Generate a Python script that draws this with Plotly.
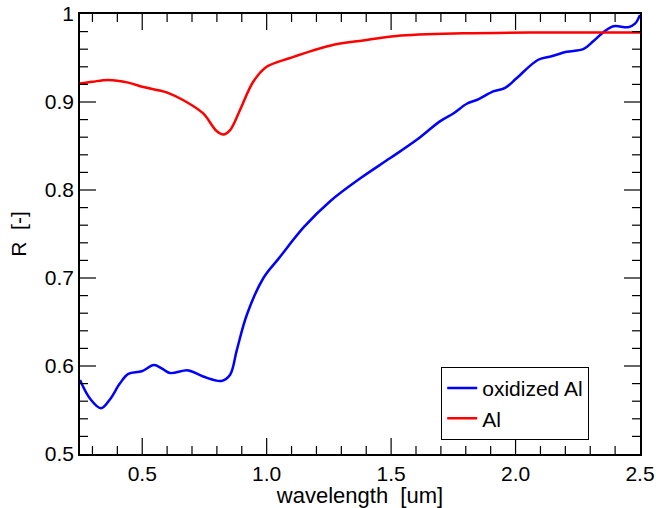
import numpy as np
import plotly.graph_objects as go

# oxidized Al
blue_x = [0.25, 0.29, 0.334, 0.37, 0.41, 0.444, 0.498, 0.547, 0.58, 0.612, 0.685, 0.745, 0.819, 0.853,
          0.88, 0.92, 0.987, 1.048, 1.15, 1.254, 1.375, 1.495, 1.603, 1.696, 1.75, 1.804, 1.85, 1.91,
          1.958, 2.004, 2.091, 2.145, 2.205, 2.272, 2.312, 2.352, 2.393, 2.453, 2.48, 2.5]
blue_y = [0.584, 0.563, 0.552, 0.562, 0.580, 0.591, 0.594, 0.601, 0.597, 0.592, 0.595, 0.588, 0.583, 0.590,
          0.618, 0.658, 0.700, 0.722, 0.758, 0.787, 0.813, 0.836, 0.857, 0.878, 0.887, 0.898, 0.903, 0.912,
          0.916, 0.927, 0.948, 0.952, 0.957, 0.960, 0.969, 0.979, 0.986, 0.985, 0.989, 0.999]

# Al
red_x = [0.25, 0.30, 0.364, 0.444, 0.504, 0.598, 0.678, 0.745, 0.799, 0.826, 0.853, 0.893, 0.946, 1.0,
         1.094, 1.254, 1.388, 1.522, 1.79, 2.058, 2.5]
red_y = [0.921, 0.923, 0.925, 0.922, 0.917, 0.911, 0.900, 0.887, 0.867, 0.863, 0.868, 0.891, 0.923, 0.940,
         0.950, 0.964, 0.970, 0.975, 0.978, 0.979, 0.979]

x_tickvals = [0.5, 1.0, 1.5, 2.0, 2.5]
x_ticktext = ["0.5", "1.0", "1.5", "2.0", "2.5"]
y_tickvals = [0.5, 0.6, 0.7, 0.8, 0.9, 1.0]
y_ticktext = ["0.5", "0.6", "0.7", "0.8", "0.9", "1"]

X_RANGE = [0.25, 2.5]
Y_RANGE = [0.5, 1.0]

# minor tick positions (every 0.1 on x, every 0.02 on y), skipping the major ones
x_minor = [round(float(v), 2) for v in np.arange(0.3, 2.5001, 0.1) if all(abs(v - m) > 1e-6 for m in x_tickvals)]
y_minor = [round(float(v), 3) for v in np.arange(0.52, 1.0001, 0.02) if all(abs(v - m) > 1e-6 for m in y_tickvals)]

FONT = "Liberation Sans, Arial, sans-serif"
W, H = 656, 508
M_L, M_R, M_T, M_B = 80, 16, 14, 54
PLOT_W = W - M_L - M_R
PLOT_H = H - M_T - M_B
MAJOR_PX, MINOR_PX = 16, 8

# tick lengths converted from pixels to data units on each axis
px_x = (X_RANGE[1] - X_RANGE[0]) / PLOT_W
px_y = (Y_RANGE[1] - Y_RANGE[0]) / PLOT_H

tx, ty = [], []
for vals, n_px in ((x_tickvals, MAJOR_PX), (x_minor, MINOR_PX)):
    for xv in vals:
        if xv <= X_RANGE[0] or xv >= X_RANGE[1]:
            continue
        tx += [xv, xv, None, xv, xv, None]
        ty += [Y_RANGE[0], Y_RANGE[0] + n_px * px_y, None, Y_RANGE[1], Y_RANGE[1] - n_px * px_y, None]
for vals, n_px in ((y_tickvals, MAJOR_PX), (y_minor, MINOR_PX)):
    for yv in vals:
        if yv <= Y_RANGE[0] or yv >= Y_RANGE[1]:
            continue
        tx += [X_RANGE[0], X_RANGE[0] + n_px * px_x, None, X_RANGE[1], X_RANGE[1] - n_px * px_x, None]
        ty += [yv, yv, None, yv, yv, None]

fig = go.Figure()
fig.add_trace(go.Scatter(x=blue_x, y=blue_y, mode="lines", name="oxidized Al",
                         line=dict(color="#0000ff", width=2.5, shape="spline", smoothing=1.0)))
fig.add_trace(go.Scatter(x=red_x, y=red_y, mode="lines", name="Al",
                         line=dict(color="#ff0000", width=2.5, shape="spline", smoothing=1.0)))
# inside tick marks on all four sides
fig.add_trace(go.Scatter(x=tx, y=ty, mode="lines", showlegend=False, hoverinfo="skip",
                         line=dict(color="black", width=1.2), connectgaps=False))

fig.update_layout(
    xaxis=dict(
        range=X_RANGE, tickmode="array", tickvals=x_tickvals, ticktext=x_ticktext,
        showgrid=False, zeroline=False, showline=True, linecolor="black", linewidth=1.5,
        mirror=True, ticks="",
        tickfont=dict(family=FONT, size=21, color="black"),
        title=dict(text="wavelength  [um]", font=dict(family=FONT, size=22, color="black"), standoff=4),
    ),
    yaxis=dict(
        range=Y_RANGE, tickmode="array", tickvals=y_tickvals, ticktext=y_ticktext,
        showgrid=False, zeroline=False, showline=True, linecolor="black", linewidth=1.5,
        mirror=True, ticks="",
        tickfont=dict(family=FONT, size=21, color="black"),
        title=dict(text="R  [-]", font=dict(family=FONT, size=21, color="black"), standoff=12),
    ),
    width=W, height=H,
    margin=dict(l=M_L, r=M_R, t=M_T, b=M_B, autoexpand=False),
    paper_bgcolor="white", plot_bgcolor="white",
    font=dict(family=FONT, size=21, color="black"),
    legend=dict(x=0.645, y=0.198, xanchor="left", yanchor="top",
                bordercolor="black", borderwidth=1, bgcolor="white",
                font=dict(family=FONT, size=21, color="black"), tracegroupgap=0),
    showlegend=True,
)

fig.write_html("out.html")
